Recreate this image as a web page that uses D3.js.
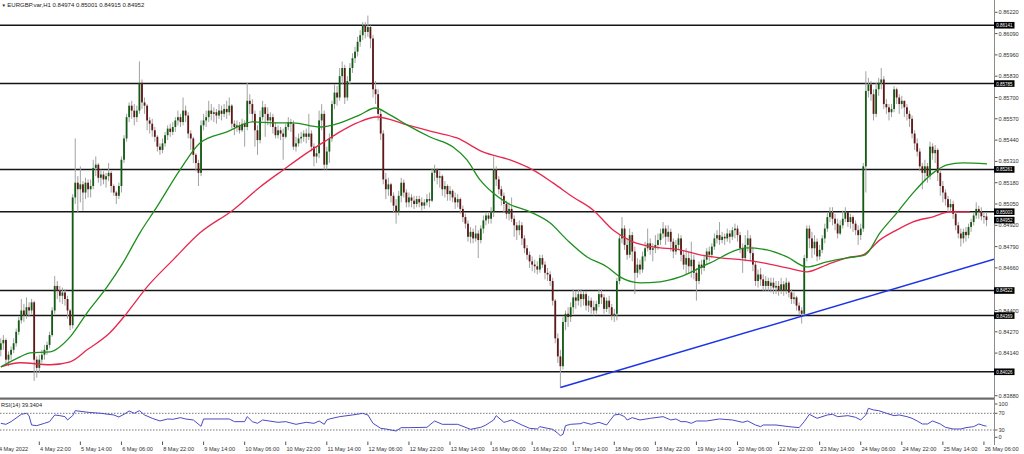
<!DOCTYPE html>
<html><head><meta charset="utf-8">
<script src="https://cdn.jsdelivr.net/npm/d3@7"></script>
<style>html,body{margin:0;padding:0;background:#fff;overflow:hidden}svg{display:block}text{font-family:"Liberation Sans",Arial,sans-serif}</style>
</head><body><svg id="c" width="1024" height="454"></svg>
<script>
const titleText = "EURGBP.var,H1  0.84974 0.85001 0.84915 0.84952";
const rsiTitle = "RSI(14) 39.3404";
const firstOpen = 0.8416;
const closes = [
.8420,.8422,.8410,.8413,.8416,.8420,.8427,.8434,.8440,.8437,.8442,.8440,.8445,.8410,.8405,.8410,
.8413,.8416,.8419,.8425,.8440,.8455,.8452,.8449,.8451,.8447,.8440,.8431,.8509,.8518,.8514,.8517,
.8512,.8518,.8514,.8516,.8527,.8529,.8521,.8523,.8520,.8522,.8524,.8516,.8512,.8510,.8516,.8532,
.8545,.8558,.8565,.8562,.8558,.8562,.8579,.8567,.8565,.8556,.8554,.8550,.8546,.8540,.8538,.8542,
.8547,.8551,.8549,.8552,.8556,.8558,.8555,.8562,.8559,.8548,.8545,.8535,.8530,.8524,.8553,.8556,
.8558,.8562,.8560,.8561,.8559,.8562,.8560,.8563,.8561,.8565,.8554,.8552,.8553,.8550,.8554,.8552,
.8568,.8566,.8560,.8550,.8544,.8558,.8564,.8560,.8556,.8558,.8552,.8547,.8550,.8548,.8546,.8552,
.8555,.8554,.8540,.8542,.8545,.8546,.8548,.8546,.8548,.8540,.8534,.8536,.8556,.8560,.8529,.8537,
.8545,.8566,.8573,.8570,.8583,.8588,.8570,.8580,.8588,.8594,.8598,.8604,.8608,.8614,.8610,.8613,
.8606,.8575,.8572,.8560,.8548,.8520,.8514,.8517,.8510,.8504,.8500,.8510,.8518,.8512,.8506,.8509,
.8507,.8505,.8508,.8506,.8504,.8506,.8508,.8507,.8524,.8526,.8521,.8522,.8514,.8516,.8511,.8513,
.8509,.8506,.8508,.8502,.8497,.8493,.8485,.8488,.8484,.8487,.8483,.8490,.8495,.8498,.8496,.8500,
.8526,.8520,.8514,.8510,.8505,.8499,.8502,.8496,.8492,.8489,.8492,.8484,.8478,.8474,.8470,.8468,
.8467,.8465,.8472,.8468,.8463,.8462,.8458,.8446,.8423,.8412,.8406,.8433,.8438,.8436,.8442,.8448,
.8446,.8450,.8447,.8450,.8443,.8446,.8442,.8440,.8444,.8450,.8448,.8441,.8446,.8442,.8437,.8438,
.8458,.8484,.8490,.8480,.8474,.8486,.8476,.8463,.8468,.8465,.8473,.8478,.8481,.8477,.8478,.8480,
.8483,.8487,.8490,.8485,.8488,.8482,.8476,.8480,.8484,.8474,.8468,.8472,.8467,.8471,.8463,.8458,
.8468,.8466,.8471,.8476,.8474,.8479,.8484,.8486,.8483,.8485,.8484,.8487,.8485,.8489,.8490,.8486,
.8478,.8472,.8480,.8484,.8475,.8468,.8458,.8462,.8459,.8455,.8458,.8455,.8457,.8454,.8455,.8452,
.8456,.8452,.8457,.8451,.8447,.8448,.8443,.8440,.8438,.8472,.8490,.8484,.8478,.8482,.8473,.8477,
.8484,.8490,.8497,.8500,.8496,.8493,.8487,.8492,.8496,.8500,.8494,.8497,.8493,.8489,.8486,.8490,
.8528,.8574,.8578,.8572,.8560,.8575,.8579,.8581,.8566,.8564,.8561,.8563,.8575,.8570,.8566,.8568,
.8564,.8560,.8557,.8548,.8542,.8537,.8528,.8524,.8528,.8522,.8540,.8536,.8538,.8524,.8516,.8512,
.8508,.8503,.8505,.8499,.8492,.8487,.8484,.8488,.8486,.8491,.8494,.8498,.8502,.8500,.84975,.84974,.84952
];
const highs = [
.8423,.8425,.8423,.8415,.8418,.8423,.8429,.8436,.8447,.8444,.8448,.8445,.8447,.8446,.8412,.8413,
.8416,.8419,.8421,.8427,.8442,.8461,.8458,.8455,.8454,.8453,.8449,.8441,.8511,.8545,.8522,.8528,
.8519,.8521,.8520,.8520,.8532,.8534,.8530,.8526,.8525,.8524,.8530,.8525,.8517,.8513,.8518,.8534,
.8547,.8560,.8567,.8568,.8566,.8565,.8592,.8581,.8570,.8566,.8558,.8557,.8552,.8547,.8542,.8545,
.8549,.8553,.8554,.8555,.8558,.8562,.8560,.8570,.8565,.8561,.8550,.8546,.8536,.8532,.8556,.8560,
.8562,.8568,.8566,.8564,.8563,.8566,.8565,.8566,.8568,.8570,.8566,.8556,.8556,.8555,.8557,.8556,
.8579,.8572,.8569,.8562,.8553,.8562,.8568,.8566,.8564,.8561,.8560,.8555,.8553,.8552,.8551,.8554,
.8558,.8557,.8556,.8546,.8548,.8549,.8550,.8551,.8560,.8550,.8542,.8540,.8562,.8566,.8562,.8540,
.8548,.8568,.8578,.8577,.8588,.8592,.8590,.8583,.8591,.8597,.8601,.8607,.8611,.8616,.8616,.8620,
.8614,.8608,.8580,.8575,.8563,.8550,.8524,.8521,.8518,.8512,.8508,.8513,.8521,.8520,.8514,.8512,
.8511,.8510,.8510,.8510,.8509,.8508,.8511,.8512,.8527,.8529,.8527,.8525,.8523,.8519,.8517,.8516,
.8514,.8512,.8511,.8509,.8504,.8499,.8495,.8491,.8490,.8492,.8489,.8492,.8498,.8500,.8500,.8503,
.8534,.8528,.8522,.8516,.8512,.8507,.8506,.8509,.8498,.8494,.8495,.8494,.8486,.8480,.8476,.8473,
.8471,.8470,.8474,.8474,.8470,.8466,.8464,.8460,.8447,.8426,.8416,.8436,.8440,.8442,.8445,.8453,
.8452,.8453,.8453,.8452,.8452,.8449,.8448,.8446,.8446,.8453,.8453,.8450,.8448,.8449,.8444,.8441,
.8460,.8486,.8497,.8492,.8484,.8490,.8488,.8479,.8472,.8471,.8476,.8482,.8490,.8484,.8481,.8486,
.8487,.8490,.8494,.8492,.8492,.8490,.8484,.8483,.8487,.8486,.8477,.8478,.8476,.8482,.8474,.8466,
.8470,.8471,.8474,.8478,.8479,.8481,.8487,.8489,.8494,.8488,.8487,.8490,.8489,.8491,.8493,.8492,
.8488,.8481,.8486,.8489,.8486,.8479,.8470,.8465,.8466,.8462,.8461,.8460,.8460,.8460,.8458,.8458,
.8460,.8458,.8460,.8458,.8453,.8451,.8449,.8445,.8442,.8474,.8492,.8492,.8488,.8486,.8484,.8480,
.8486,.8493,.8500,.8503,.8503,.8499,.8496,.8495,.8501,.8503,.8500,.8499,.8498,.8495,.8492,.8493,
.8530,.8586,.8582,.8580,.8575,.8579,.8582,.8588,.8583,.8569,.8566,.8566,.8577,.8576,.8572,.8571,
.8568,.8566,.8562,.8559,.8550,.8545,.8539,.8530,.8532,.8530,.8543,.8542,.8541,.8539,.8526,.8519,
.8514,.8510,.8508,.8507,.8501,.8494,.8490,.8490,.8491,.8493,.8496,.8500,.8506,.8504,.8503,.8500,.85001
];
const lows = [
.8412,.8416,.8407,.8406,.8410,.8414,.8418,.8425,.8432,.8433,.8435,.8436,.8438,.8397,.8399,.8402,
.8408,.8410,.8413,.8417,.8424,.8438,.8447,.8445,.8444,.8443,.8435,.8428,.8429,.8505,.8500,.8506,
.8501,.8508,.8509,.8509,.8514,.8522,.8518,.8516,.8517,.8515,.8519,.8512,.8510,.8505,.8508,.8512,
.8530,.8543,.8555,.8557,.8553,.8555,.8560,.8563,.8560,.8550,.8548,.8546,.8543,.8537,.8535,.8536,
.8540,.8544,.8546,.8547,.8549,.8553,.8552,.8553,.8555,.8545,.8538,.8530,.8525,.8516,.8522,.8550,
.8552,.8555,.8556,.8555,.8554,.8557,.8556,.8558,.8557,.8559,.8551,.8547,.8549,.8548,.8549,.8540,
.8550,.8560,.8555,.8540,.8535,.8542,.8556,.8546,.8553,.8552,.8548,.8545,.8545,.8544,.8532,.8545,
.8550,.8549,.8538,.8537,.8540,.8542,.8543,.8542,.8544,.8537,.8528,.8530,.8533,.8550,.8526,.8526,
.8530,.8543,.8563,.8565,.8568,.8578,.8566,.8568,.8578,.8585,.8591,.8595,.8601,.8605,.8606,.8607,
.8600,.8570,.8566,.8556,.8544,.8517,.8508,.8510,.8506,.8500,.8493,.8498,.8506,.8509,.8503,.8503,
.8503,.8502,.8503,.8503,.8501,.8502,.8504,.8503,.8506,.8519,.8517,.8515,.8510,.8509,.8507,.8507,
.8506,.8502,.8503,.8499,.8494,.8490,.8482,.8481,.8481,.8482,.8472,.8481,.8487,.8492,.8493,.8493,
.8497,.8516,.8511,.8504,.8500,.8496,.8495,.8494,.8485,.8483,.8486,.8480,.8475,.8471,.8466,.8464,
.8463,.8462,.8463,.8466,.8459,.8458,.8455,.8443,.8420,.8408,.8393,.8404,.8428,.8430,.8433,.8438,
.8441,.8443,.8442,.8443,.8440,.8439,.8438,.8437,.8438,.8442,.8444,.8438,.8439,.8438,.8434,.8433,
.8434,.8456,.8481,.8477,.8471,.8472,.8470,.8450,.8460,.8462,.8463,.8470,.8476,.8474,.8470,.8475,
.8477,.8480,.8484,.8480,.8482,.8476,.8472,.8474,.8477,.8470,.8465,.8462,.8463,.8460,.8459,.8446,
.8456,.8462,.8464,.8468,.8470,.8472,.8477,.8481,.8480,.8481,.8480,.8482,.8481,.8483,.8484,.8482,
.8475,.8463,.8470,.8476,.8470,.8464,.8455,.8454,.8455,.8452,.8452,.8452,.8451,.8450,.8450,.8449,
.8450,.8449,.8450,.8448,.8444,.8444,.8440,.8437,.8432,.8436,.8470,.8478,.8472,.8474,.8470,.8471,
.8475,.8481,.8488,.8494,.8492,.8489,.8484,.8486,.8490,.8494,.8491,.8490,.8488,.8486,.8480,.8483,
.8488,.8512,.8570,.8568,.8556,.8558,.8571,.8575,.8563,.8560,.8556,.8558,.8561,.8566,.8560,.8563,
.8558,.8556,.8552,.8545,.8538,.8534,.8525,.8514,.8519,.8518,.8520,.8532,.8530,.8519,.8510,.8506,
.8504,.8500,.8500,.8496,.8489,.8484,.8479,.8481,.8482,.8484,.8488,.8492,.8496,.8496,.8495,.8493,.84915
];
// moving averages: [bar index, price]
const maGreen = [[0,.84056],[7.5,.84117],[11.4,.84142],[19.2,.84148],[27,.84239],[33.6,.84386],[41.4,.84544],[47.6,.84691],[54.2,.84874],[60.8,.85032],[69.8,.85258],[77.6,.85423],[88.1,.85490],[98.2,.85551],[106,.85545],[113.8,.85545],[124.3,.85520],[132.1,.85545],[139.9,.85594],[145.8,.85636],[151.6,.85594],[158.2,.85533],[167.2,.85459],[176.2,.85398],[181.6,.85319],[186.7,.85197],[191.7,.85118],[197.2,.85057],[206.2,.85002],[213.9,.84935],[220.6,.84831],[228.4,.84727],[236.2,.84666],[241.2,.84605],[249,.84569],[256.8,.84575],[264.6,.84605],[276.3,.84691],[290.7,.84782],[298.5,.84770],[306.3,.84727],[314,.84666],[321.8,.84697],[329.6,.84721],[336.7,.84740],[342.5,.84874],[349.1,.84996],[355.4,.85118],[363.2,.85240],[368.6,.85289],[374.8,.85301],[384.2,.85295]];
const maRed = [[0,.84056],[7.5,.84081],[19.2,.84069],[27,.84087],[33.6,.84160],[42.5,.84264],[49.2,.84386],[57,.84544],[67.1,.84709],[77.6,.84874],[90.5,.85014],[101,.85154],[110,.85258],[119.3,.85362],[127.1,.85441],[132.1,.85490],[138.8,.85545],[146.5,.85581],[158.2,.85533],[168.4,.85490],[177.7,.85453],[187.8,.85368],[198.4,.85319],[207.3,.85258],[215.1,.85179],[222.9,.85093],[230.7,.85014],[238.5,.84892],[246.3,.84819],[254.1,.84788],[264.6,.84770],[272.4,.84740],[280.2,.84721],[289.1,.84709],[297,.84691],[306.3,.84660],[314,.84636],[321.8,.84679],[329.6,.84721],[335.9,.84740],[342.5,.84831],[349.1,.84892],[355.4,.84941],[363.2,.84972],[369.8,.85002],[377.6,.85002]];
const trendAnchors = [[218,.8393],[313,.8437]];
const levels = [0.86141,0.85785,0.85261,0.85003,0.84522,0.84369,0.84026];
const lastPrice = 0.84952;
const priceTicks = ["0.86220","0.86090","0.85960","0.85830","0.85700","0.85570","0.85440","0.85310","0.85180","0.85050","0.84920","0.84790","0.84660","0.84530","0.84400","0.84270","0.84140","0.84010","0.83880"];
const timeLabels = ["4 May 2022","4 May 22:00","5 May 14:00","6 May 06:00","8 May 22:00","9 May 14:00","10 May 06:00","10 May 22:00","11 May 14:00","12 May 06:00","12 May 22:00","13 May 14:00","16 May 06:00","16 May 22:00","17 May 14:00","18 May 06:00","18 May 22:00","19 May 14:00","20 May 06:00","22 May 22:00","23 May 14:00","24 May 06:00","24 May 22:00","25 May 14:00","26 May 06:00"];
const timeLabelBars = [-1,15,31,47,63,79,95,111,127,143,159,175,191,207,223,239,255,271,287,303,319,335,351,367,383];
const rsiPoints = [[0,46],[2,43.6],[4,50],[8,67.6],[10,70],[11,64.4],[12,42],[14,40.4],[17,46],[19,50],[21,66],[23,64.4],[25,62],[26,54],[28,64.4],[29,76.4],[30,75.6],[34,72.4],[39,70],[44,66],[46,61.2],[48,67.6],[50,75.6],[52,70],[54,76.4],[56,66],[59,58],[62,51.6],[65,56.4],[67,55.6],[70,59.6],[72,56.4],[75,54],[78,38.8],[79,56.4],[83,56.4],[89,56.4],[91,50],[95,50],[96,62],[98,50],[100,46],[102,54],[108,48.4],[111,50],[115,43.6],[119,48.4],[122,46],[124,51.6],[126,43.6],[127,54],[128,56.4],[132,62],[137,66],[141,70],[143,66],[145,46],[148,34],[150,32.4],[154,27.6],[156,35.6],[159,35.6],[166,36.4],[169,51.6],[172,43.6],[178,43.6],[182,34],[183,31.6],[187,36.4],[189,42],[192,54],[193,64.4],[196,48.4],[197,50],[199,54],[203,42],[206,34],[209,32.4],[210,38],[213,34],[215,31.6],[217,22],[218,16.4],[219,19.6],[220,40.4],[222,43.6],[226,45.2],[227,48.4],[230,43.6],[233,48.4],[236,42],[239,66],[241,67.6],[243,62],[244,54],[246,59.6],[249,54],[253,58],[258,62],[261,54],[263,56.4],[265,50],[267,50],[269,46],[271,51.6],[275,51.6],[280,56.4],[285,54],[289,48.4],[291,51.6],[294,42],[296,38],[297,42],[302,42],[307,38],[311,35.6],[313,50],[315,67.6],[318,58],[322,66],[324,67.6],[326,62],[330,64.4],[333,60.4],[335,54],[337,66],[338,82],[340,78],[342,76.4],[345,70],[348,64.4],[350,66],[353,62],[355,58],[357,51.6],[359,44.4],[361,44.4],[363,51.6],[366,44.4],[368,36.4],[371,32.4],[374,32.4],[376,35.6],[379,38],[381,44.4],[383,40.4],[384,39.34]];
const rsiLevels = [70,30];
const rsiTicks = [100,70,30,0];

const svg = d3.select("#c");
const PR = 994, MB = 398, RT = 400.8, RB = 442.5;
const n = closes.length;
const x = d3.scaleLinear().domain([0, n - 1]).range([0.8, 986.5]);
const y = d3.scaleLinear().domain([0.83866, 0.86295]).range([MB, 0]);
const yr = d3.scaleLinear().domain([0, 100]).range([RB, RT]);

const defs = svg.append("defs");
defs.append("clipPath").attr("id","mainClip").append("rect").attr("x",0).attr("y",0).attr("width",PR).attr("height",MB-0.5);
defs.append("clipPath").attr("id","rsiClip").append("rect").attr("x",0).attr("y",400).attr("width",PR).attr("height",42);

const main = svg.append("g").attr("clip-path","url(#mainClip)");

// horizontal levels
main.selectAll("line.lvl").data(levels).join("line")
  .attr("x1",0).attr("x2",PR).attr("y1",d=>y(d)).attr("y2",d=>y(d))
  .attr("stroke","#151515").attr("stroke-width",1.5);

// candles
const opens = closes.map((c,i)=> i===0 ? firstOpen : closes[i-1]);
const bars = closes.map((c,i)=>({i, o:opens[i], c, h:Math.max(highs[i],opens[i],c), l:Math.min(lows[i],opens[i],c)}));
const cg = main.append("g");
cg.selectAll("line.wick").data(bars).join("line")
  .attr("x1",d=>x(d.i)).attr("x2",d=>x(d.i))
  .attr("y1",d=>y(d.h)).attr("y2",d=>y(d.l))
  .attr("stroke","#a2a2a2").attr("stroke-width",1);
cg.selectAll("rect.body").data(bars).join("rect")
  .attr("x",d=>x(d.i)-0.9).attr("width",1.8)
  .attr("y",d=>y(Math.max(d.o,d.c)))
  .attr("height",d=>Math.max(0.8, Math.abs(y(d.o)-y(d.c))))
  .attr("fill",d=> d.c>=d.o ? "#135a13" : "#5e1616");

// moving averages
const line = d3.line().x(d=>x(d[0])).y(d=>y(d[1])).curve(d3.curveMonotoneX);
main.append("path").attr("d",line(maRed)).attr("fill","none").attr("stroke","#e8274e").attr("stroke-width",1.3);
main.append("path").attr("d",line(maGreen)).attr("fill","none").attr("stroke","#1d8f1d").attr("stroke-width",1.3);

// trend line (ray)
const [a,b] = trendAnchors;
const slope = (b[1]-a[1])/(b[0]-a[0]);
const endIdx = x.invert(PR);
main.append("line")
  .attr("x1",x(a[0])).attr("y1",y(a[1]))
  .attr("x2",x(endIdx)).attr("y2",y(a[1]+slope*(endIdx-a[0])))
  .attr("stroke","#1a33e6").attr("stroke-width",1.5);

// panel separator
svg.append("rect").attr("x",0).attr("y",MB-0.5).attr("width",PR).attr("height",2.2).attr("fill","#6b6b6b");

// right axis
svg.append("line").attr("x1",PR+0.5).attr("x2",PR+0.5).attr("y1",0).attr("y2",445).attr("stroke","#8c8c8c").attr("stroke-width",1);
const allLabels = levels.concat([lastPrice]);
// tick labels fully hidden behind a level box are not drawn
const visibleTicks = priceTicks.filter(t => !allLabels.some(l => Math.abs(y(l) - y(+t)) < 3));
const ax = svg.append("g");
ax.selectAll("line.tk").data(priceTicks).join("line")
  .attr("x1",PR+1).attr("x2",PR+3.5).attr("y1",d=>y(+d)).attr("y2",d=>y(+d)).attr("stroke","#555");
ax.selectAll("text.tk").data(visibleTicks).join("text")
  .attr("x",PR+4.5).attr("y",d=>y(+d)).attr("dy","0.36em")
  .attr("font-size",5.6).attr("fill","#333").text(d=>d);

// level labels
const lab = svg.append("g");
lab.selectAll("rect").data(allLabels).join("rect")
  .attr("x",PR).attr("width",20.5).attr("y",d=>y(d)-3.3).attr("height",6.6).attr("fill","#000");
lab.selectAll("text").data(allLabels).join("text")
  .attr("x",PR+2.3).attr("y",d=>y(d)).attr("dy","0.36em")
  .attr("font-size",5.4).attr("textLength",16.2).attr("lengthAdjust","spacingAndGlyphs")
  .attr("fill","#fff").text(d=>d.toFixed(5));

// RSI panel
const rg = svg.append("g").attr("clip-path","url(#rsiClip)");
rg.selectAll("line.rl").data(rsiLevels).join("line")
  .attr("x1",0).attr("x2",PR).attr("y1",d=>yr(d)).attr("y2",d=>yr(d))
  .attr("stroke","#555").attr("stroke-width",0.8).attr("stroke-dasharray","1.5,1.5");
const rline = d3.line().x(d=>x(d[0])).y(d=>yr(d[1]));
rg.append("path").attr("d",rline(rsiPoints)).attr("fill","none").attr("stroke","#4a4ac4").attr("stroke-width",1);
const rsiLabY = d => Math.min(437.3, Math.max(404, yr(d)));
svg.selectAll("text.rt").data(rsiTicks).join("text")
  .attr("x",PR+4.5).attr("y",rsiLabY).attr("dy","0.36em")
  .attr("font-size",5.6).attr("fill","#333").text(d=>d);
svg.selectAll("line.rtk").data(rsiTicks).join("line")
  .attr("x1",PR+1).attr("x2",PR+3.5).attr("y1",rsiLabY).attr("y2",rsiLabY).attr("stroke","#555");
svg.append("text").attr("x",1).attr("y",407).attr("font-size",5.6).attr("fill","#222").text(rsiTitle);

// bottom time axis
const tg = svg.append("g");
tg.selectAll("line").data(timeLabelBars).join("line")
  .attr("x1",d=>x(d)).attr("x2",d=>x(d)).attr("y1",441.5).attr("y2",445).attr("stroke","#555");
tg.selectAll("text").data(timeLabels).join("text")
  .attr("x",(d,i)=>x(timeLabelBars[i])+0.7).attr("y",451.3)
  .attr("font-size",5.6).attr("fill","#333").text(d=>d);

// title
svg.append("text").attr("x",1.5).attr("y",6.6).attr("font-size",4.5).attr("fill","#222").attr("font-family","DejaVu Sans").text("▼");
svg.append("text").attr("x",7.3).attr("y",6.8).attr("font-size",6).attr("fill","#222").text(titleText);
</script></body></html>
